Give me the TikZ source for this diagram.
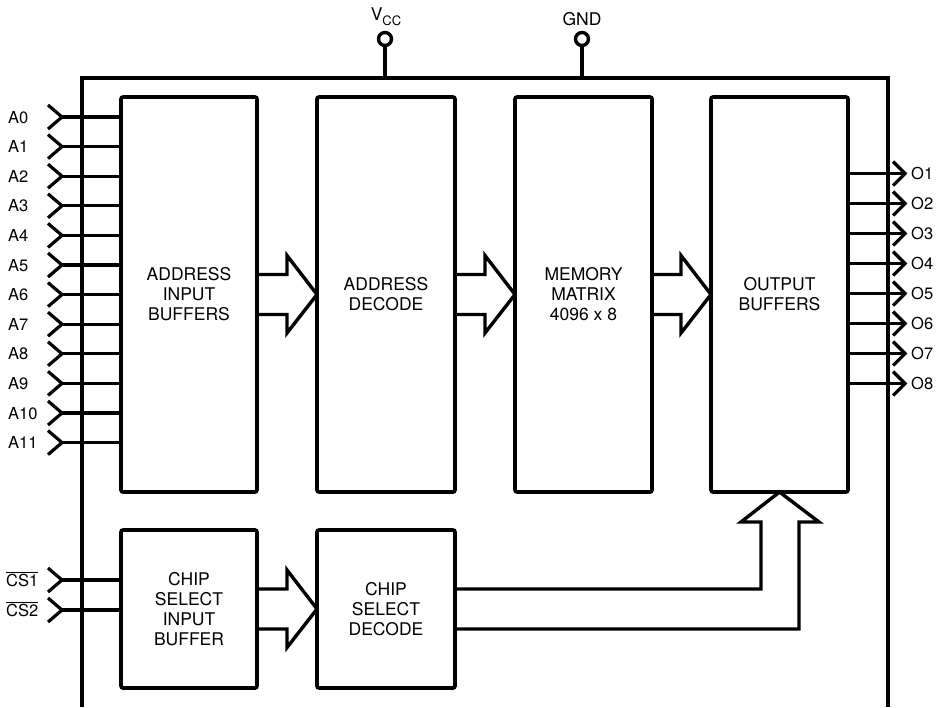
\documentclass[tikz,border=0pt]{standalone}
\usepackage{fontspec}
\setmainfont{TeX Gyre Heros}
\newcommand{\blkfont}{\fontsize{17.5}{20}\selectfont}
\newcommand{\pinfont}{\fontsize{16.5}{18}\selectfont}
\newcommand{\pwrfont}{\fontsize{17.5}{20}\selectfont}
\begin{document}
\begin{tikzpicture}[x=1pt,y=-1pt,
  every node/.style={inner sep=0pt},
  blk/.style={draw, line width=3.6pt, rounded corners=2pt, outer sep=0pt, align=center, font=\blkfont},
  wire/.style={line width=3.2pt},
  fat/.style={line width=3.4pt, line join=miter},
  pinlbl/.style={font=\pinfont, anchor=base west},
  pinc/.style={circle, draw, line width=3.4pt, minimum size=13pt, outer sep=0pt}]
\useasboundingbox (0,0) rectangle (937,707);

% outer package outline
\draw[line width=3.6pt] (82,707) -- (82,78) -- (888,78) -- (888,707);

% blocks
\node[blk, minimum width=136pt, minimum height=395pt] (aib) at (189,294.5) {ADDRESS\\INPUT\\BUFFERS};
\node[blk, minimum width=138pt, minimum height=395pt] (adec) at (386,294.5) {ADDRESS\\DECODE};
\node[blk, minimum width=137pt, minimum height=395pt] (mem) at (583.5,294.5) {MEMORY\\MATRIX\\4096 x 8};
\node[blk, minimum width=137pt, minimum height=395pt] (ob) at (779.5,294.5) {OUTPUT\\BUFFERS};
\node[blk, minimum width=136pt, minimum height=158pt] (csib) at (189,609) {CHIP\\SELECT\\INPUT\\BUFFER};
\node[blk, minimum width=138pt, minimum height=158pt] (csd) at (386,609) {CHIP\\SELECT\\DECODE};

% fat bus arrows
\draw[fat] ([yshift=20pt]aib.east) -- ++(30,0) -- ++(0,-19) -- (adec.west) -- ++(-30,38.5) -- ++(0,-18.5) -- ([yshift=-20pt]aib.east);
\draw[fat] ([yshift=20pt]adec.east) -- ++(30,0) -- ++(0,-19) -- (mem.west) -- ++(-30,38.5) -- ++(0,-18.5) -- ([yshift=-20pt]adec.east);
\draw[fat] ([yshift=20pt]mem.east) -- ++(29,0) -- ++(0,-19) -- (ob.west) -- ++(-30,38.5) -- ++(0,-18.5) -- ([yshift=-20pt]mem.east);
\draw[fat] ([yshift=20pt]csib.east) -- ++(30,0) -- ++(0,-19) -- (csd.west) -- ++(-30,38.5) -- ++(0,-18.5) -- ([yshift=-20pt]csib.east);
\draw[fat] ([yshift=20pt]csd.east) -- (761,589) -- (761,522) -- (741,522) -- (ob.south) -- (819,522) -- (799,522) -- (799,629) -- ([yshift=-20pt]csd.east);

% address inputs
\foreach \i in {0,...,11} {
  \coordinate (ain\i) at (62,{117+29.6*\i});
  \draw[wire] (ain\i) -- (aib.west |- ain\i);
  \draw[wire, line join=miter] ([shift={(-14,-12)}]ain\i) -- (ain\i) -- ([shift={(-14,12)}]ain\i);
  \node[pinlbl] (la\i) at (8,{123+29.6*\i}) {A\i};
}

% chip select inputs
\coordinate (cs1in) at (62,580);
\coordinate (cs2in) at (62,610);
\foreach \c in {cs1in,cs2in} {
  \draw[wire] (\c) -- (csib.west |- \c);
  \draw[wire, line join=miter] ([shift={(-14,-12)}]\c) -- (\c) -- ([shift={(-14,12)}]\c);
}
\node[pinlbl] (lcs1) at (6,586) {$\overline{\hbox{CS1}}$};
\node[pinlbl] (lcs2) at (6,616) {$\overline{\hbox{CS2}}$};

% outputs
\foreach \i in {1,...,8} {
  \coordinate (oout\i) at (905,{173.5+30*(\i-1)});
  \draw[wire] (ob.east |- oout\i) -- (oout\i);
  \draw[wire, line join=miter] ([shift={(-12,-12)}]oout\i) -- (oout\i) -- ([shift={(-12,12)}]oout\i);
  \node[pinlbl] (lo\i) at (911,{179.5+30*(\i-1)}) {O\i};
}

% power pins
\node[pinc] (vcc) at (385,39) {};
\coordinate (vccfoot) at (385,78);
\draw[wire] (vcc.south) -- (vccfoot);
\node[font=\pwrfont, anchor=base] (vcclbl) at (386,20) {V\raisebox{-5pt}{\fontsize{13}{13}\selectfont CC}};

\node[pinc] (gnd) at (582,39) {};
\coordinate (gndfoot) at (582,78);
\draw[wire] (gnd.south) -- (gndfoot);
\node[font=\pwrfont, anchor=base] (gndlbl) at (582,25) {GND};
\end{tikzpicture}
\end{document}
